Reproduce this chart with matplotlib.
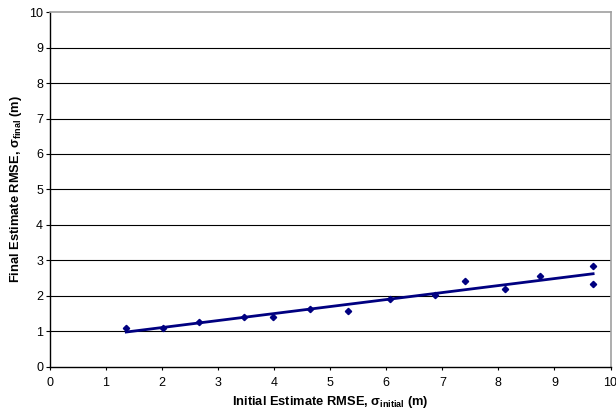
import matplotlib
matplotlib.use('Agg')
import matplotlib.pyplot as plt
import numpy as np

plt.rcParams['font.family'] = ['Liberation Sans', 'DejaVu Sans']
plt.rcParams['mathtext.fontset'] = 'custom'
plt.rcParams['mathtext.rm'] = 'Liberation Sans'
plt.rcParams['mathtext.bf'] = 'Liberation Sans:bold'

# data
sigma_initial = [1.36, 2.01, 2.66, 3.46, 3.97, 4.64, 5.31, 6.07, 6.87, 7.41, 8.11, 8.75, 9.69, 9.69]
sigma_final = [1.08, 1.08, 1.26, 1.39, 1.41, 1.61, 1.57, 1.91, 2.01, 2.42, 2.19, 2.55, 2.85, 2.34]

navy = '#000080'

fig = plt.figure(figsize=(6.16, 4.16), dpi=100)
ax = fig.add_axes([50/616, 49.5/416, 560.5/616, 354.2/416])

# linear trend line
k, b = np.polyfit(sigma_initial, sigma_final, 1)
xt = np.array([min(sigma_initial), max(sigma_initial)])
ax.plot(xt, k*xt + b, color=navy, lw=2, zorder=3)

ax.plot(sigma_initial, sigma_final, 'D', color=navy, ms=3.2, zorder=4)

ax.set_xlim(0, 10)
ax.set_ylim(0, 10)
ax.set_xticks(range(0, 11))
ax.set_yticks(range(0, 11))
for yv in range(1, 10):
    ax.axhline(yv, color='black', lw=0.8, zorder=1)

for s in ['top', 'right']:
    ax.spines[s].set_color('#a0a0a0')
    ax.spines[s].set_linewidth(1.2)
for s in ['left', 'bottom']:
    ax.spines[s].set_color('black')
    ax.spines[s].set_linewidth(1.0)

ax.tick_params(direction='out', width=0.8, labelsize=9)
ax.tick_params(axis='y', length=3, pad=2)
ax.tick_params(axis='x', length=2, pad=5.5)

ax.set_xlabel(r'Initial Estimate RMSE, $\mathbf{\sigma_{initial}}$ (m)', fontsize=9.3,
              fontweight='bold', labelpad=4)
ax.set_ylabel(r'Final Estimate RMSE, $\mathbf{\sigma_{final}}$ (m)', fontsize=9.3,
              fontweight='bold', labelpad=3.5)

fig.savefig('out.png', dpi=100)
